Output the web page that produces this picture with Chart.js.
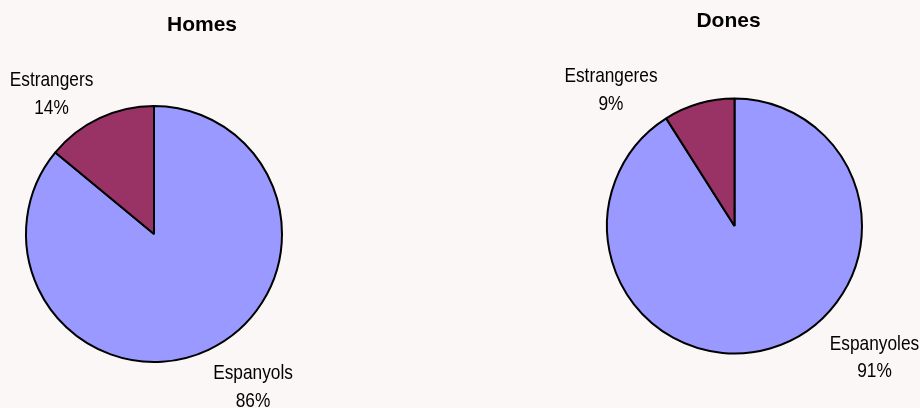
<!DOCTYPE html>
<html>
<head>
<meta charset="utf-8">
<script src="https://cdn.jsdelivr.net/npm/chart.js@4"></script>
<style>
  html, body { margin: 0; padding: 0; background: #fcf7f7; }
  .wrap { position: relative; width: 920px; height: 408px; }
  canvas { position: absolute; top: 0; }
  #homes { left: 0; }
  #dones { left: 460px; }
</style>
</head>
<body>
<div class="wrap">
  <canvas id="homes" width="460" height="408"></canvas>
  <canvas id="dones" width="460" height="408"></canvas>
</div>
<script>
const homesLabels = ['Espanyols', 'Estrangers'];
const homesValues = [86, 14];
const donesLabels = ['Espanyoles', 'Estrangeres'];
const donesValues = [91, 9];
const sliceColors = ['#9999ff', '#993366'];

// text in the original is a bit taller than it is wide
function tallText(ctx, str, x, y, sy) {
  ctx.save();
  ctx.translate(x, y);
  ctx.scale(1, sy);
  ctx.fillText(str, 0, 0);
  ctx.restore();
}

// draws the title and the two-line slice labels (name + percent)
const pieText = {
  id: 'pieText',
  afterDraw(chart, args, opts) {
    const ctx = chart.ctx;
    const meta = chart.getDatasetMeta(0);
    const values = chart.data.datasets[0].data;
    const total = values.reduce((a, b) => a + b, 0);
    ctx.save();
    ctx.fillStyle = '#000';
    ctx.textAlign = 'center';
    ctx.textBaseline = 'middle';
    ctx.font = 'bold 21px "Liberation Sans", Arial, sans-serif';
    const arc0 = meta.data[0];
    ctx.fillText(opts.title, arc0.x + opts.titleDx, opts.titleY);
    ctx.font = '17.3px "Liberation Sans", Arial, sans-serif';
    meta.data.forEach((arc, i) => {
      const off = opts.offsets[i];
      const x = arc.x + off[0];
      const y = arc.y + off[1];
      const pct = Math.round(values[i] / total * 100) + '%';
      tallText(ctx, chart.data.labels[i], x, y - 12.5, 1.18);
      tallText(ctx, pct, x, y + 15, 1.18);
    });
    ctx.restore();
  }
};

function makePie(id, labels, values, padding, text) {
  return new Chart(document.getElementById(id), {
    type: 'pie',
    data: {
      labels: labels,
      datasets: [{
        data: values,
        backgroundColor: sliceColors,
        borderColor: '#000',
        borderWidth: 2
      }]
    },
    options: {
      responsive: false,
      animation: false,
      layout: { padding: padding },
      plugins: {
        legend: { display: false },
        tooltip: { enabled: false },
        pieText: text
      }
    },
    plugins: [pieText]
  });
}

makePie('homes', homesLabels, homesValues,
  { left: 25, top: 105, right: 177, bottom: 45 },
  { title: 'Homes', titleDx: 48, titleY: 25.5, offsets: [[99, 152], [-102.5, -141]] });

makePie('dones', donesLabels, donesValues,
  { left: 146, top: 97, right: 57, bottom: 53 },
  { title: 'Dones', titleDx: -6, titleY: 21.5, offsets: [[140, 130.5], [-123.5, -137]] });
</script>
</body>
</html>
